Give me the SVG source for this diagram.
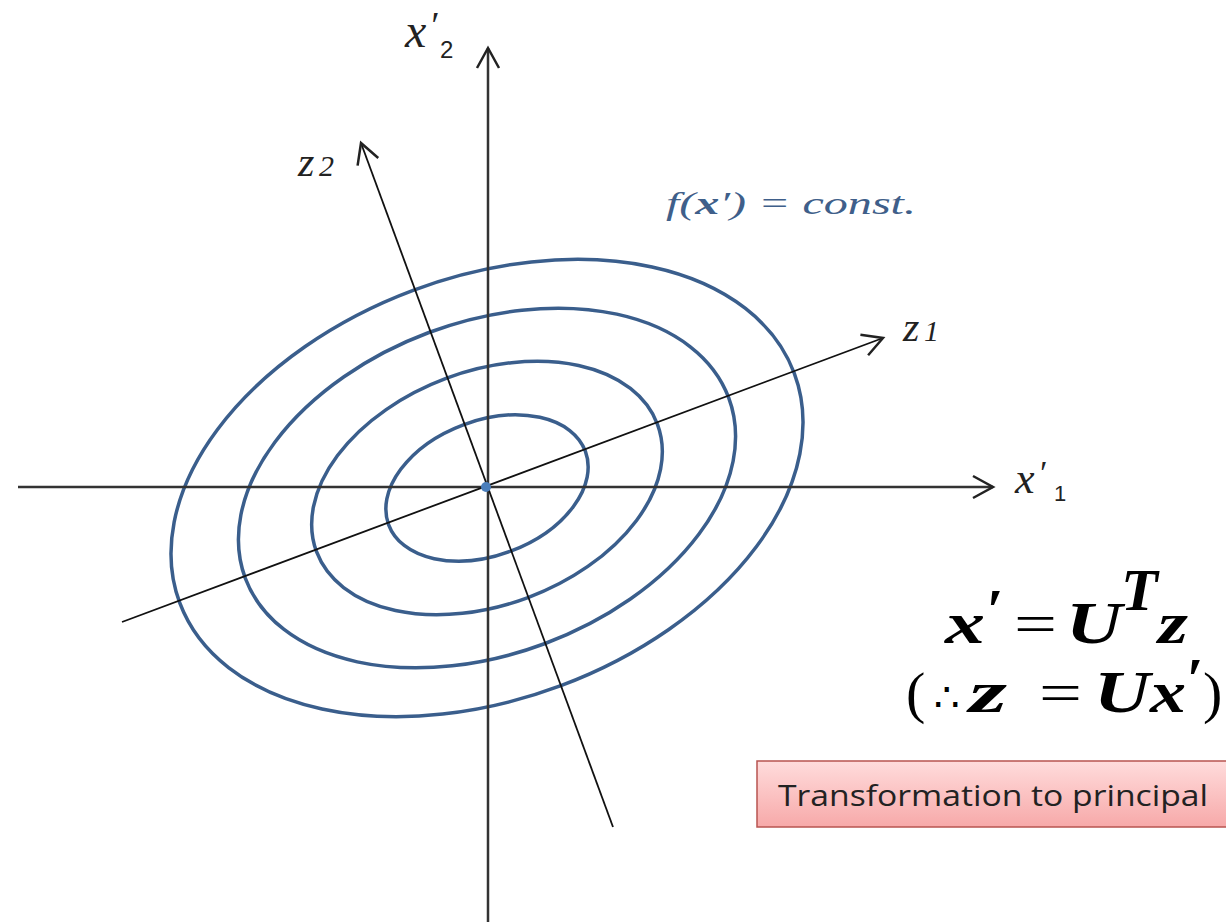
<svg xmlns="http://www.w3.org/2000/svg" width="1226" height="922" viewBox="0 0 1226 922">
<style>
.ell{fill:none;stroke:#3A5E8C;stroke-width:3.5}
.main{stroke:#333;stroke-width:2.5;fill:none}
.pc{stroke:#111;stroke-width:1.8;fill:none}
.lab{font-family:"Liberation Serif",serif;font-style:italic;fill:#222}
.sub{font-family:"Liberation Sans",sans-serif;fill:#222}
.eq{font-family:"Liberation Serif","DejaVu Serif",serif;font-weight:bold;font-style:italic;fill:#000;font-size:60px}
.eqn{font-family:"Liberation Serif","DejaVu Serif",serif;fill:#000;font-size:58px}
</style>
<defs>
<marker id="arr" markerUnits="userSpaceOnUse" viewBox="-24 -14 28 28" refX="0" refY="0" markerWidth="28" markerHeight="28" orient="auto">
<path d="M -20,-11 L 0,0 L -20,11" fill="none" stroke="#222" stroke-width="2.5"/>
</marker>
<linearGradient id="rg" x1="0" y1="0" x2="0" y2="1">
<stop offset="0" stop-color="#FFDCDC"/>
<stop offset="1" stop-color="#F7A9A9"/>
</linearGradient>
</defs>
<rect width="1226" height="922" fill="#fff"/>
<g id="contours" transform="translate(487,488) rotate(-20.5)">
<ellipse class="ell" rx="328" ry="211"/>
<ellipse class="ell" rx="258" ry="166"/>
<ellipse class="ell" rx="182" ry="117"/>
<ellipse class="ell" rx="105" ry="67.5"/>
</g>
<g id="connectors">
<line class="main" x1="18" y1="487" x2="993" y2="487" marker-end="url(#arr)"/>
<line class="main" x1="488" y1="922" x2="488" y2="48" marker-end="url(#arr)"/>
<line class="pc" x1="122" y1="622" x2="883" y2="338" marker-end="url(#arr)"/>
<line class="pc" x1="613" y1="827" x2="361" y2="143" marker-end="url(#arr)"/>
</g>
<g id="origin"><circle cx="486" cy="487" r="5" fill="#4A7EBB"/></g>
<g id="label-x2">
<text class="lab" x="405" y="47" font-size="48">x</text>
<text class="lab" x="429" y="38" font-size="38" font-style="normal">′</text>
<text class="sub" x="440" y="58" font-size="24">2</text>
</g>
<g id="label-x1">
<text class="lab" x="1015" y="493" font-size="44">x</text>
<text class="lab" x="1038" y="484" font-size="34" font-style="normal">′</text>
<text class="sub" x="1054" y="501" font-size="22">1</text>
</g>
<g id="label-z2">
<text class="lab" x="298" y="176" font-size="42">z</text>
<text class="lab" x="319" y="176" font-size="30" font-style="normal">2</text>
</g>
<g id="label-z1">
<text class="lab" x="903" y="341" font-size="42">z</text>
<text class="lab" x="924" y="341" font-size="30" font-style="normal">1</text>
</g>
<g id="label-f">
<text class="lab" x="666" y="214" font-size="31" style="fill:#3F5F8A" textLength="250" lengthAdjust="spacingAndGlyphs">f(<tspan font-weight="bold">x</tspan>′) = const.</text>
</g>
<g id="equations">
<text class="eq" x="945" y="643" textLength="40" lengthAdjust="spacingAndGlyphs">x</text>
<text class="eq" x="986" y="630" font-size="44" font-style="normal">′</text>
<text class="eqn" x="1014" y="643" textLength="43" lengthAdjust="spacingAndGlyphs">=</text>
<text class="eq" x="1066" y="643" textLength="56" lengthAdjust="spacingAndGlyphs">U</text>
<text class="eq" x="1121" y="610" font-size="27">T</text>
<text class="eq" x="1158" y="643" textLength="30" lengthAdjust="spacingAndGlyphs">z</text>
<text class="eqn" x="906" y="712">(</text>
<text x="934" y="711" font-family="DejaVu Sans,sans-serif" font-size="40" fill="#000">∴</text>
<text class="eq" x="969" y="712" textLength="38" lengthAdjust="spacingAndGlyphs">z</text>
<text class="eqn" x="1039" y="712" textLength="43" lengthAdjust="spacingAndGlyphs">=</text>
<text class="eq" x="1094" y="712" textLength="56" lengthAdjust="spacingAndGlyphs">U</text>
<text class="eq" x="1150" y="712" textLength="36" lengthAdjust="spacingAndGlyphs">x</text>
<text class="eq" x="1186" y="699" font-size="40" font-style="normal">′</text>
<text class="eqn" x="1203" y="712">)</text>
</g>
<g id="note">
<rect x="757" y="761" width="480" height="66" fill="url(#rg)" stroke="#B85450" stroke-width="1.5"/>
<text x="778" y="806" font-family="Open Sans,sans-serif" font-size="29" fill="#222" textLength="430" lengthAdjust="spacingAndGlyphs">Transformation to principal</text>
</g>
</svg>
